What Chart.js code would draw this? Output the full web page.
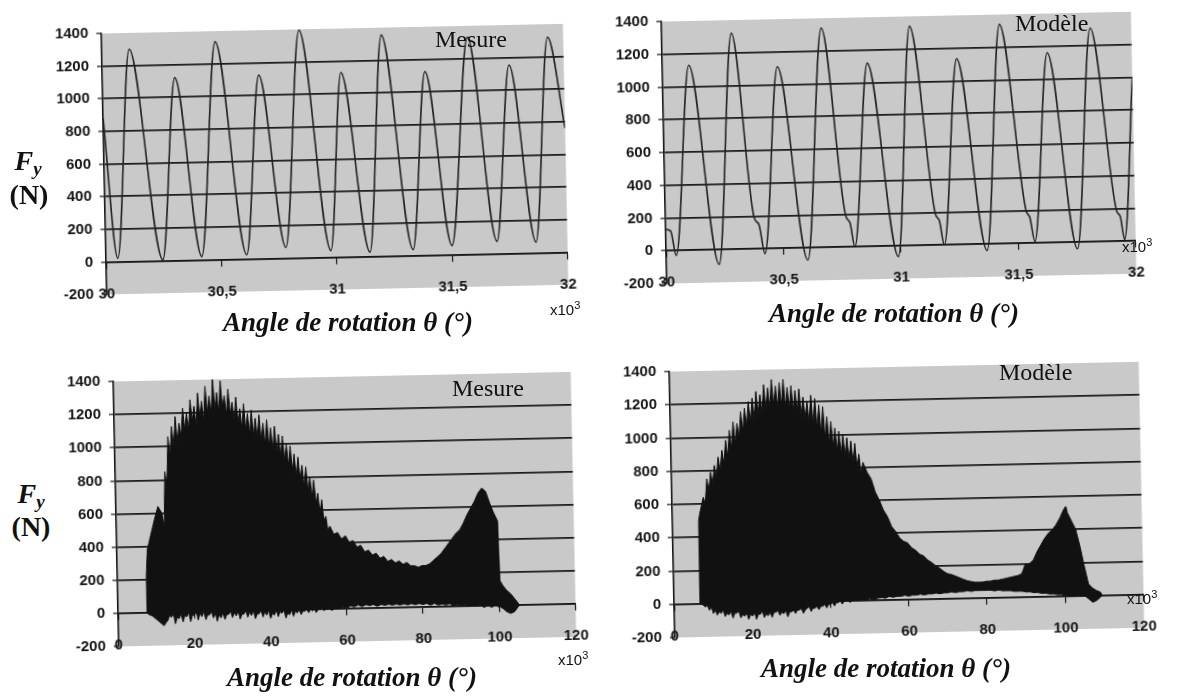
<!DOCTYPE html>
<html><head><meta charset="utf-8">
<script src="https://cdn.jsdelivr.net/npm/chart.js@4.4.0/dist/chart.umd.min.js"></script>
<style>
html,body{margin:0;padding:0;background:#fff;width:1179px;height:697px;overflow:hidden;position:relative}
canvas{position:absolute;transform:rotate(-1.2deg);transform-origin:50% 50%}
.t{position:absolute;white-space:nowrap;color:#111;line-height:1}
.ttl{font-family:"Liberation Serif","Times New Roman",serif;font-weight:bold;font-style:italic;font-size:27px;transform:translate(-50%,-50%)}
.lab{font-family:"Liberation Serif","Times New Roman",serif;font-size:24px;transform:translateY(-50%)}
.ex{font-family:"Liberation Sans",Arial,sans-serif;font-size:15px;transform:translateY(-50%)}
.ex sup{font-size:11px;vertical-align:6px}
.fy{font-family:"Liberation Serif","Times New Roman",serif;font-weight:bold;font-size:28px;transform:translate(-50%,-50%)}
.fy sub{font-size:19px;vertical-align:-5px}
</style></head><body>
<canvas id="c1"></canvas><canvas id="c2"></canvas><canvas id="c3"></canvas><canvas id="c4"></canvas>

<div class="t fy" style="left:28px;top:162px"><i>F</i><sub><i>y</i></sub></div>
<div class="t fy" style="left:29px;top:195px">(N)</div>
<div class="t fy" style="left:31px;top:495px"><i>F</i><sub><i>y</i></sub></div>
<div class="t fy" style="left:31px;top:527px">(N)</div>

<div class="t ttl" style="left:348px;top:322px">Angle de rotation θ (°)</div>
<div class="t ttl" style="left:894px;top:313px">Angle de rotation θ (°)</div>
<div class="t ttl" style="left:352px;top:677px">Angle de rotation θ (°)</div>
<div class="t ttl" style="left:886px;top:668px">Angle de rotation θ (°)</div>

<div class="t lab" style="left:435px;top:39px">Mesure</div>
<div class="t lab" style="left:1015px;top:23px">Modèle</div>
<div class="t lab" style="left:452px;top:388px">Mesure</div>
<div class="t lab" style="left:999px;top:372px">Modèle</div>

<div class="t ex" style="left:550px;top:308px">x10<sup>3</sup></div>
<div class="t ex" style="left:1122px;top:245px">x10<sup>3</sup></div>
<div class="t ex" style="left:558px;top:658px">x10<sup>3</sup></div>
<div class="t ex" style="left:1127px;top:597px">x10<sup>3</sup></div>

<script>
// ---------- tick labels ----------
const yTicks = [-200, 0, 200, 400, 600, 800, 1000, 1200, 1400];
const topXTicks = [30, 30.5, 31, 31.5, 32];
const bottomXTicks = [0, 20, 40, 60, 80, 100, 120];

// ---------- top-left : Mesure, zoom 30..32 x10^3 deg ----------
const mesureTopAngle = [30.0, 30.051, 30.119, 30.246, 30.314, 30.415, 30.492, 30.610, 30.678, 30.780, 30.856, 30.975, 31.034, 31.144, 31.212, 31.331, 31.398, 31.500, 31.585, 31.695, 31.763, 31.864, 31.932, 32.0];
const mesureTopForce = [880, 20, 1300, 5, 1120, 20, 1335, 25, 1125, 65, 1395, 40, 1130, 25, 1355, 35, 1125, 55, 1330, 75, 1155, 65, 1320, 760];

// ---------- top-right : Modèle ----------
const modeleTopAngle = [30.0, 30.021, 30.043, 30.113, 30.225, 30.297, 30.378, 30.397, 30.421, 30.490, 30.603, 30.680, 30.768, 30.785, 30.804, 30.873, 30.989, 31.056, 31.150, 31.166, 31.185, 31.254, 31.367, 31.439, 31.536, 31.551, 31.571, 31.640, 31.752, 31.825, 31.921, 31.937, 31.953, 32.0];
const modeleTopForce = [130, 120, -30, 1130, -90, 1320, 190, 150, -30, 1110, -75, 1340, 190, 150, 0, 1120, -65, 1340, 190, 150, 0, 1135, -40, 1340, 200, 160, 10, 1160, -40, 1305, 190, 150, 10, 1000];

// ---------- bottom-left : Mesure, full run (envelope max / min) ----------
const mesureBotAngle = [7.5, 7.6, 8, 9, 10, 11, 12, 12.6,
  13, 13.5, 14, 14.5, 15, 15.5, 16, 16.5, 17, 17.5,
  18, 18.5, 19, 19.5, 20, 20.5, 21, 21.5, 22, 22.5,
  23, 23.5, 24, 24.5, 25, 25.5, 26, 26.5, 27, 27.5,
  28, 28.5, 29, 29.5, 30, 30.5, 31, 31.5, 32, 32.5,
  33, 33.5, 34, 34.5, 35, 35.5, 36, 36.5, 37, 37.5,
  38, 38.5, 39, 39.5, 40, 40.5, 41, 41.5, 42, 42.5,
  43, 43.5, 44, 44.5, 45, 45.5, 46, 46.5, 47, 47.5,
  48, 48.5, 49, 49.5, 50, 50.5, 51, 51.5, 52, 52.5,
  53, 53.5, 54, 54.5, 55, 55.5,
  56, 57, 58, 59, 60, 61, 62,
  63, 64, 65, 66, 67, 68, 69, 70, 71, 72,
  73, 74, 75, 76, 77, 78, 79, 80, 81, 82,
  83, 84, 85, 86, 87, 88, 89, 90, 91, 92,
  93, 94, 95, 96, 97, 98, 99, 100,
  100.3, 101, 102, 103, 104, 105, 105.3];
const mesureBotMax = [0, 220, 380, 470, 560, 640, 600, 520,
  850, 760, 1060, 940, 1120, 1000, 1180, 1020, 1140, 1060,
  1230, 1100, 1200, 1090, 1280, 1150, 1240, 1120, 1320, 1170,
  1270, 1150, 1360, 1200, 1300, 1180, 1410, 1220, 1320, 1200,
  1390, 1230, 1300, 1180, 1340, 1190, 1260, 1150, 1290, 1130,
  1220, 1100, 1250, 1090, 1190, 1060, 1210, 1050, 1160, 1040,
  1180, 1020, 1130, 1000, 1150, 990, 1100, 960, 1110, 950,
  1060, 920, 1050, 900, 1000, 870, 990, 840, 940, 800,
  920, 780, 870, 740, 860, 720, 800, 680, 780, 640,
  700, 580, 660, 530, 560, 470,
  500, 450, 460, 420, 440, 400, 410,
  370, 380, 340, 350, 320, 330, 300, 310, 280, 290,
  270, 280, 260, 270, 250, 250, 240, 250, 250, 260,
  280, 300, 320, 350, 380, 410, 440, 460, 500, 550,
  590, 630, 680, 710, 690, 620, 560, 510,
  150, 120, 90, 70, 40, 10, 0];
const mesureBotMin = [0, 0, -10, -20, -40, -60, -80, -60,
  -50, -20, -30, -10, -70, -30, -40, -10, -60, -20,
  -30, 0, -60, -20, -20, 0, -50, -10, -30, 0,
  -50, -20, -20, 0, -40, -10, -60, -20, -40, -10,
  -50, -20, -20, 0, -40, -10, -30, 0, -50, -20,
  -20, 0, -40, -10, -30, 0, -50, -20, -20, 0,
  -40, -10, -30, 0, -50, -20, -30, 0, -40, -10,
  -20, 0, -50, -20, -30, 0, -40, -10, -20, 0,
  -30, -10, -10, 0, -20, 0, -10, 0, -20, 0,
  0, 10, -10, 0, 0, 10,
  -10, 5, 0, 10, 5, 15, 10,
  20, 10, 20, 15, 20, 10, 20, 15, 20, 15,
  20, 15, 20, 15, 20, 15, 20, 15, 20, 10,
  20, 10, 15, 10, 15, 5, 10, 5, 10, 0,
  5, 0, 5, -10, 0, -10, 0, -10,
  -10, -20, -40, -50, -40, -10, 0];

// ---------- bottom-right : Modèle, full run (envelope max / min) ----------
const modeleBotAngle = [6.6, 6.7, 7,
  8, 8.5, 9, 9.5, 10, 10.5, 11, 11.5, 12, 12.5,
  13, 13.5, 14, 14.5, 15, 15.5, 16, 16.5, 17, 17.5,
  18, 18.5, 19, 19.5, 20, 20.5, 21, 21.5, 22, 22.5,
  23, 23.5, 24, 24.5, 25, 25.5, 26, 26.5, 27, 27.5,
  28, 28.5, 29, 29.5, 30, 30.5, 31, 31.5, 32, 32.5,
  33, 33.5, 34, 34.5, 35, 35.5, 36, 36.5, 37, 37.5,
  38, 38.5, 39, 39.5, 40, 40.5, 41, 41.5, 42, 42.5,
  43, 43.5, 44, 44.5, 45, 45.5, 46, 46.5, 47, 47.5,
  48, 48.5,
  49, 50, 51, 52, 53, 54, 55, 56, 57, 58,
  59, 60, 61, 62, 63, 64, 65, 66, 67, 68,
  69, 70, 71, 72, 73, 74, 75, 76, 77, 78,
  79, 80, 81, 82, 83, 84, 85, 86, 87, 88,
  89, 90, 91, 92, 93, 94, 95, 96, 97, 98,
  99, 100, 100.6,
  101, 102, 103, 104, 105, 106, 107, 108, 109, 109.5];
const modeleBotMax = [0, 500, 540,
  640, 600, 750, 680, 790, 720, 830, 760, 880, 800,
  920, 840, 980, 880, 1040, 930, 1090, 960, 1080, 1000,
  1150, 1030, 1170, 1060, 1210, 1080, 1230, 1100, 1270, 1130,
  1250, 1140, 1310, 1160, 1290, 1170, 1340, 1180, 1300, 1170,
  1320, 1180, 1340, 1170, 1290, 1160, 1300, 1150, 1270, 1140,
  1280, 1120, 1230, 1100, 1200, 1080, 1240, 1060, 1220, 1040,
  1180, 1010, 1170, 980, 1110, 950, 1080, 930, 1040, 900,
  1020, 880, 1000, 870, 980, 850, 960, 830, 945, 800,
  880, 760,
  830, 770, 730, 650, 600, 540, 500, 440, 410, 370,
  350, 340, 310, 295, 270, 260, 235, 220, 200, 185,
  165, 150, 145, 135, 125, 115, 105, 100, 95, 95,
  95, 100, 100, 105, 105, 110, 115, 120, 125, 130,
  140, 200, 200, 220, 270, 310, 350, 380, 400, 430,
  470, 520, 540,
  500, 450, 400, 300, 180, 70, 45, 30, 20, 0];
const modeleBotMin = [0, 0, 0,
  -20, -10, -40, -20, -60, -40, -70, -50, -60, -40,
  -80, -60, -70, -50, -90, -60, -60, -50, -90, -70,
  -80, -60, -100, -70, -80, -60, -100, -70, -70, -50,
  -90, -70, -80, -60, -90, -60, -60, -50, -80, -60,
  -70, -50, -90, -60, -60, -50, -70, -50, -50, -40,
  -70, -50, -40, -30, -60, -40, -40, -30, -50, -30,
  -30, -20, -40, -20, -20, -10, -30, -10, -10, 0,
  -20, 0, 0, 0, -10, 0, 0, 0, 0, 5,
  5, 5,
  0, 10, 5, 10, 15, 10, 20, 15, 20, 20,
  25, 20, 25, 25, 30, 25, 30, 30, 35, 30,
  35, 35, 40, 35, 40, 40, 45, 40, 45, 45,
  45, 45, 45, 40, 45, 40, 40, 40, 35, 35,
  35, 30, 30, 25, 25, 20, 20, 15, 15, 10,
  10, 5, 5,
  0, 0, 5, 0, 0, -20, -40, -30, -10, 0];

// ---------- helpers ----------
const pts = (xs, ys) => xs.map((x, i) => ({x: x, y: ys[i]}));
const INK = '#161616';
const tickFont = {family: '"Liberation Sans", Arial, sans-serif', weight: 'bold', size: 15};

const bgPlugin = {
  id: 'plotbg',
  beforeDraw(chart) {
    const {ctx, chartArea: a} = chart;
    ctx.save();
    ctx.fillStyle = '#c9c9c9';
    ctx.fillRect(a.left, a.top, a.right - a.left, a.bottom - a.top);
    ctx.restore();
  }
};

// chart area boxes [left, top, right, bottom] in page px
function place(id, L, T, R, B) {
  const c = document.getElementById(id);
  const w = R - L + 85, h = B - T + 20;
  c.width = w; c.height = h;
  c.style.left = (L - 60) + 'px';
  c.style.top = (T - 12) + 'px';
  c.style.width = w + 'px'; c.style.height = h + 'px';
  return c;
}

function build(id, box, datasets, xMin, xMax, xTicks) {
  const c = place(id, box[0], box[1], box[2], box[3]);
  return new Chart(c, {
    type: 'line',
    data: {datasets: datasets},
    options: {
      responsive: false, animation: false, devicePixelRatio: 1,
      layout: {padding: {left: 5, top: 12, right: 25, bottom: 8}},
      plugins: {legend: {display: false}, tooltip: {enabled: false}},
      elements: {point: {radius: 0}},
      scales: {
        x: {
          type: 'linear', min: xMin, max: xMax, position: {y: 0},
          afterBuildTicks: s => { s.ticks = xTicks.map(v => ({value: v})); },
          ticks: {font: tickFont, color: INK, padding: 17, maxRotation: 0, autoSkip: false,
                  callback: v => String(v).replace('.', ',')},
          grid: {drawOnChartArea: false, drawTicks: true, tickLength: 6, tickColor: INK, tickWidth: 1.2},
          border: {display: true, color: INK, width: 1.6}
        },
        y: {
          type: 'linear', min: -200, max: 1400, position: 'left',
          afterBuildTicks: s => { s.ticks = yTicks.map(v => ({value: v})); },
          afterFit: s => { s.width = 55; },
          ticks: {font: tickFont, color: INK, padding: 8, callback: v => String(v)},
          grid: {
            color: ctx => (ctx.tick && (ctx.tick.value === -200 || ctx.tick.value === 1400)) ? 'rgba(0,0,0,0)' : '#1c1c1c',
            lineWidth: 1.7, drawTicks: true, tickLength: 5, tickColor: INK, tickWidth: 1.2
          },
          border: {display: true, color: INK, width: 1.6}
        }
      }
    },
    plugins: [bgPlugin]
  });
}

const lineStyle = {borderColor: '#222', borderWidth: 1.6, pointRadius: 0, fill: false, cubicInterpolationMode: 'monotone'};

build('c1', [104, 24, 566, 299],
  [Object.assign({data: pts(mesureTopAngle, mesureTopForce)}, lineStyle)], 30, 32, topXTicks);
build('c2', [664, 12, 1134, 288],
  [Object.assign({data: pts(modeleTopAngle, modeleTopForce)}, lineStyle)], 30, 32, topXTicks);

function env(xs, hi, lo) {
  return [
    {data: pts(xs, hi), borderColor: '#111', borderWidth: 1, pointRadius: 0, fill: '+1', backgroundColor: '#111', tension: 0},
    {data: pts(xs, lo), borderColor: '#111', borderWidth: 1, pointRadius: 0, fill: false, tension: 0}
  ];
}
build('c3', [116, 372, 578, 651], env(mesureBotAngle, mesureBotMax, mesureBotMin), 0, 120, bottomXTicks);
build('c4', [672, 362, 1146, 642], env(modeleBotAngle, modeleBotMax, modeleBotMin), 0, 120, bottomXTicks);
</script>
</body></html>
